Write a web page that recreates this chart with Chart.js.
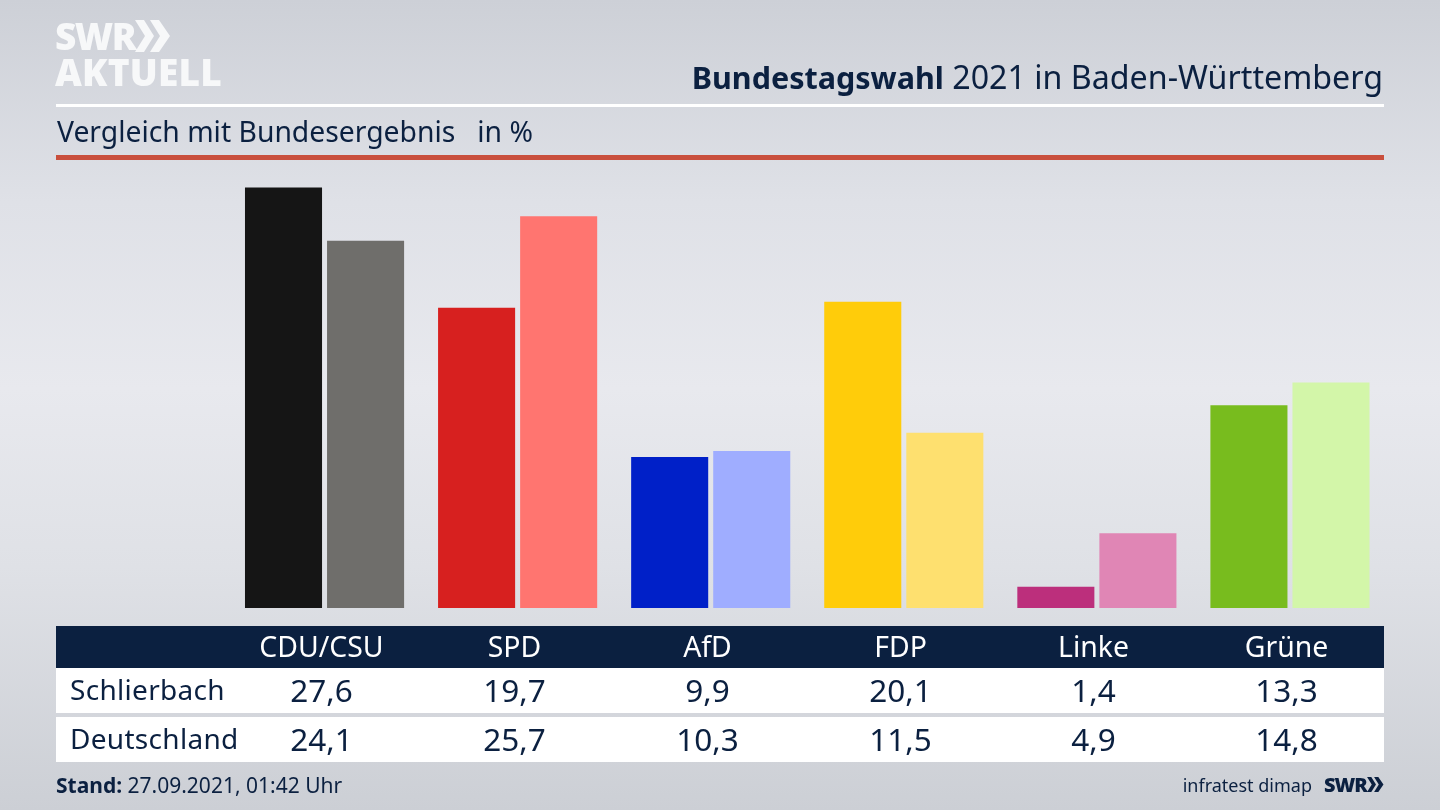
<!DOCTYPE html>
<html lang="de">
<head>
<meta charset="utf-8">
<title>Bundestagswahl 2021 in Baden-Württemberg</title>
<script src="https://cdn.jsdelivr.net/npm/chart.js@4"></script>
<style>
    html, body { margin: 0; padding: 0; }
    body {
        width: 1440px; height: 810px; overflow: hidden; position: relative;
        font-family: "Noto Sans", sans-serif; color: #0b2040;
        background: linear-gradient(180deg, #cdd0d7 0%, #dfe1e7 25%, #e8e9ee 48%, #dfe1e6 70%, #cccfd5 100%);
    }
    #graph { position: absolute; left: 0; top: 0; }
    .abs { position: absolute; white-space: nowrap; }
    .cell { position: absolute; white-space: nowrap; transform: translateX(-50%); line-height: 40px; }
    .rowlabel { position: absolute; left: 70px; line-height: 40px; font-size: 28px; letter-spacing: .3px; }
    #head { position: absolute; left: 56px; top: 626px; width: 1328px; height: 42px; background: #0b2040; }
    #row1 { position: absolute; left: 56px; top: 668px; width: 1328px; height: 45px; background: #fff; }
    #row2 { position: absolute; left: 56px; top: 717px; width: 1328px; height: 45px; background: #fff; }
    .logo { font-family: "Open Sans", sans-serif; font-weight: 800; color: #f7f8f9; }
</style>
</head>
<body>
<canvas id="graph" width="1440" height="810"></canvas>

<div class="abs logo" style="left:55px;top:11px;font-size:37px;line-height:50px;letter-spacing:-1.5px">SWR</div>
<svg class="abs" style="left:135px;top:20px" width="36" height="32" viewBox="0 0 36 32">
    <path d="M0 0h9l10 16-10 16H0l10-16zM15 0h9l11 16-11 16h-9l10-16z" fill="#f7f8f9"/>
</svg>
<div class="abs logo" style="left:55px;top:47px;font-size:37px;line-height:50px;letter-spacing:.2px">AKTUELL</div>

<div class="abs" style="right:57px;top:55px;font-size:32.2px;line-height:44px"><b style="font-size:30.5px">Bundestagswahl</b> 2021 in Baden-Württemberg</div>
<div class="abs" style="left:56px;top:104px;width:1328px;height:3px;background:#fff"></div>
<div class="abs" style="left:57px;top:110px;font-size:28.3px;line-height:42px">Vergleich mit Bundesergebnis&nbsp;&nbsp; in %</div>
<div class="abs" style="left:56px;top:155px;width:1328px;height:5px;background:#c94f3d"></div>

<div id="head"></div>
<div id="row1"></div>
<div id="row2"></div>
<div id="table"></div>

<div class="abs" style="left:56px;top:769px;font-size:21px;line-height:32px"><b>Stand:</b> 27.09.2021, 01:42 Uhr</div>
<div class="abs" style="right:128px;top:769px;font-size:18px;line-height:32px">infratest dimap</div>
<div class="abs" style="left:1324px;top:769px;font-size:20px;line-height:32px;font-weight:800;font-family:'Open Sans',sans-serif;letter-spacing:-1px">SWR</div>
<svg class="abs" style="left:1367px;top:777px" width="17" height="15" viewBox="0 0 36 32">
    <path d="M0 0h9l10 16-10 16H0l10-16zM15 0h9l11 16-11 16h-9l10-16z" fill="#0b2040"/>
</svg>

<script>
const parties = ['CDU/CSU', 'SPD', 'AfD', 'FDP', 'Linke', 'Grüne'];
const schlierbach = [27.6, 19.7, 9.9, 20.1, 1.4, 13.3];
const deutschland = [24.1, 25.7, 10.3, 11.5, 4.9, 14.8];
const colorsDark = ['#151515', '#d7201f', '#0020c8', '#ffcc0a', '#bc2f7c', '#78bc1e'];
const colorsLight = ['#6f6e6b', '#ff7570', '#9fadff', '#fee06f', '#e086b5', '#d3f6a9'];

function formatValue(v) {
    return v.toFixed(1).replace('.', ',');
}

function addCell(text, x, y, size, color) {
    const div = document.createElement('div');
    div.className = 'cell';
    div.textContent = text;
    div.style.left = x + 'px';
    div.style.top = y + 'px';
    div.style.fontSize = size + 'px';
    div.style.color = color;
    document.getElementById('table').appendChild(div);
}

function addRowLabel(text, y) {
    const div = document.createElement('div');
    div.className = 'rowlabel';
    div.textContent = text;
    div.style.top = y + 'px';
    document.getElementById('table').appendChild(div);
}

function drawTable() {
    addRowLabel('Schlierbach', 669);
    addRowLabel('Deutschland', 718);
    parties.forEach(function (name, i) {
        const x = 321.5 + i * 193;
        addCell(name, x, 626, 28.4, '#ffffff');
        addCell(formatValue(schlierbach[i]), x, 670, 31.5, '#0b2040');
        addCell(formatValue(deutschland[i]), x, 719, 31.5, '#0b2040');
    });
}

function draw() {
    new Chart(document.getElementById('graph'), {
        type: 'bar',
        data: {
            labels: parties,
            datasets: [{
                label: 'Schlierbach',
                data: schlierbach,
                backgroundColor: colorsDark,
                categoryPercentage: 0.85,
                barPercentage: 0.939
            }, {
                label: 'Deutschland',
                data: deutschland,
                backgroundColor: colorsLight,
                categoryPercentage: 0.85,
                barPercentage: 0.939
            }]
        },
        options: {
            responsive: false,
            animation: false,
            layout: { padding: { left: 228, right: 53.5, top: 150.8, bottom: 202 } },
            plugins: { legend: { display: false }, tooltip: { enabled: false } },
            scales: {
                x: { display: false },
                y: { display: false, min: 0, max: 30 }
            }
        }
    });
}

drawTable();
draw();
</script>
</body>
</html>
